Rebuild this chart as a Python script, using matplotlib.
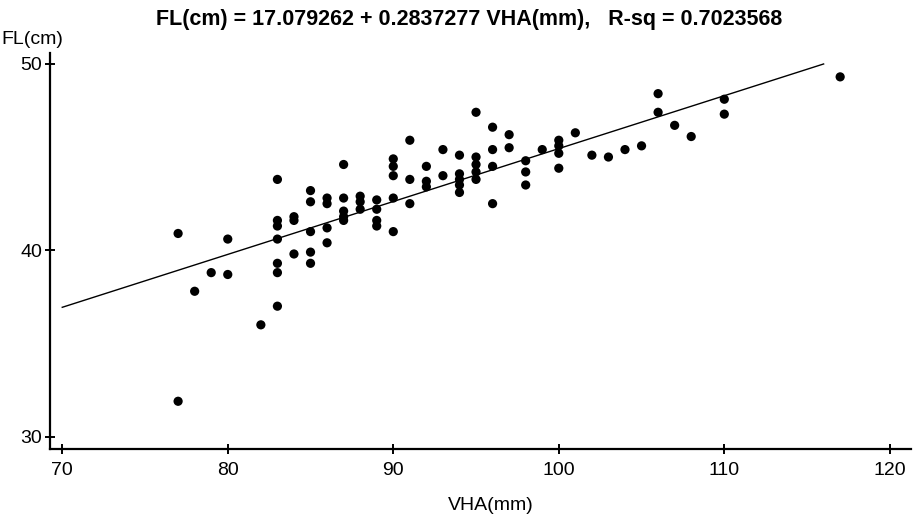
import matplotlib
matplotlib.use("Agg")
import matplotlib.pyplot as plt
import numpy as np

# ---- data ----
vha_mm = [77, 77, 78, 79, 80, 80, 82,
          83, 83, 83, 83, 83, 83, 83,
          84, 84, 84,
          85, 85, 85, 85, 85,
          86, 86, 86, 86,
          87, 87, 87, 87, 87,
          88, 88, 88,
          89, 89, 89, 89,
          90, 90, 90, 90, 90,
          91, 91, 91,
          92, 92, 92,
          93, 93,
          94, 94, 94, 94, 94,
          95, 95, 95, 95, 95,
          96, 96, 96, 96,
          97, 97,
          98, 98, 98,
          99,
          100, 100, 100, 100,
          101, 102, 103, 104, 105,
          106, 106, 107, 108,
          110, 110, 117]
fl_cm = [40.9, 31.9, 37.8, 38.8, 40.6, 38.7, 36.0,
         43.8, 41.6, 41.3, 40.6, 39.3, 38.8, 37.0,
         41.8, 41.6, 39.8,
         43.2, 42.6, 41.0, 39.9, 39.3,
         42.8, 42.5, 41.2, 40.4,
         44.6, 42.8, 42.1, 41.8, 41.6,
         42.9, 42.6, 42.2,
         42.7, 42.2, 41.6, 41.3,
         44.9, 44.5, 44.0, 42.8, 41.0,
         45.9, 43.8, 42.5,
         44.5, 43.7, 43.4,
         45.4, 44.0,
         45.1, 44.1, 43.8, 43.5, 43.1,
         47.4, 45.0, 44.6, 44.2, 43.8,
         46.6, 45.4, 44.5, 42.5,
         46.2, 45.5,
         44.8, 44.2, 43.5,
         45.4,
         45.9, 45.6, 45.2, 44.4,
         46.3, 45.1, 45.0, 45.4, 45.6,
         48.4, 47.4, 46.7, 46.1,
         48.1, 47.3, 49.3]

intercept = 17.079262
slope = 0.2837277
r_sq = 0.7023568
fit_x_range = [70, 116]

x_ticks = [70, 80, 90, 100, 110, 120]
y_ticks = [30, 40, 50]

title_text = "FL(cm) = 17.079262 + 0.2837277 VHA(mm),   R-sq = 0.7023568"
x_label = "VHA(mm)"
y_label = "FL(cm)"

# ---- figure ----
plt.rcParams['font.family'] = ['Liberation Sans', 'DejaVu Sans']
W, H = 917, 520
fig = plt.figure(figsize=(W / 100, H / 100), dpi=100)
ax = fig.add_axes([50 / W, (H - 449) / H, (911 - 50) / W, (449 - 53) / H])

ax.set_xlim(69.26, 121.28)
ax.set_ylim(29.34, 50.58)

fx = np.array(fit_x_range, dtype=float)
ax.plot(fx, intercept + slope * fx, color='black', lw=1.0, zorder=2)
ax.scatter(vha_mm, fl_cm, s=44, color='black', edgecolors='none', zorder=3)

for s in ['top', 'right']:
    ax.spines[s].set_visible(False)
for s in ['left', 'bottom']:
    ax.spines[s].set_linewidth(1.6)

ax.set_xticks(x_ticks)
ax.set_yticks(y_ticks)
ax.tick_params(direction='inout', length=7, width=1.4, labelsize=14, pad=2)
ax.tick_params(axis='x', pad=6)

ax.set_xlabel(x_label, fontsize=14)
ax.xaxis.set_label_coords((491 - 50) / (911 - 50), -(497 - 449) / (449 - 53))

fig.text(32 / W, 1 - 40 / H, y_label, fontsize=14, ha='center', va='center')
fig.text(469 / W, 1 - 19 / H, title_text, fontsize=15.5, fontweight='bold',
         ha='center', va='center')

fig.savefig("out.png", dpi=100)
